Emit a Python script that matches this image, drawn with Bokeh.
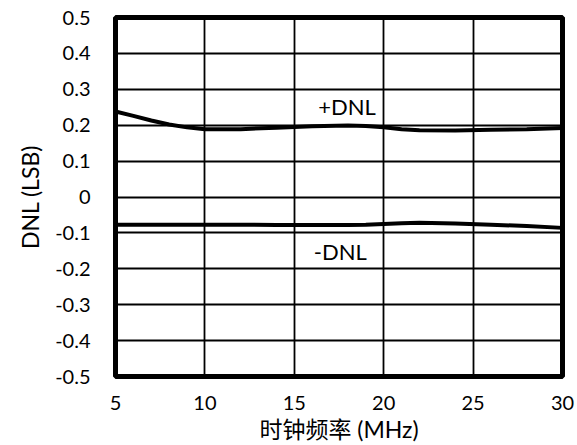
from bokeh.plotting import figure
from bokeh.models import FixedTicker, Range1d
from bokeh.core.properties import value
from bokeh.embed import file_html
from bokeh.resources import INLINE

freq = [5, 6, 7, 8, 9, 10, 12, 14, 16, 18, 19, 20, 21, 22, 24, 26, 28, 30]
dnl_pos = [0.238, 0.226, 0.213, 0.202, 0.194, 0.189, 0.189, 0.193, 0.197, 0.199, 0.198, 0.194, 0.189, 0.186, 0.185, 0.187, 0.189, 0.192]
dnl_neg = [-0.077, -0.077, -0.077, -0.077, -0.077, -0.077, -0.077, -0.078, -0.078, -0.078, -0.077, -0.075, -0.073, -0.072, -0.074, -0.077, -0.081, -0.086]
x_ticks = [5, 10, 15, 20, 25, 30]
y_ticks = [-0.5, -0.4, -0.3, -0.2, -0.1, 0, 0.1, 0.2, 0.3, 0.4, 0.5]
y_tick_labels = ["-0.5", "-0.4", "-0.3", "-0.2", "-0.1", "0", "0.1", "0.2", "0.3", "0.4", "0.5"]
label_text = ["+DNL", "-DNL"]
label_x = [17.95, 17.57]
label_y = [0.252, -0.151]

FONT = "Lato, 'Noto Sans CJK SC'"

p = figure(width=577, height=445, output_backend="svg", toolbar_location=None,
           x_range=Range1d(5, 30), y_range=Range1d(-0.5, 0.5),
           min_border_left=115, min_border_right=15, min_border_top=17, min_border_bottom=68)
p.background_fill_color = "white"
p.border_fill_color = "white"
p.outline_line_color = "black"
p.outline_line_width = 5

for ax in (p.xaxis[0], p.yaxis[0]):
    ax.axis_line_color = None
    ax.major_tick_line_color = None
    ax.minor_tick_line_color = None
    ax.major_label_text_font = FONT
    ax.major_label_text_font_size = "20px"
    ax.major_label_text_color = "black"
    ax.axis_label_text_font = FONT
    ax.axis_label_text_font_size = "23px"
    ax.axis_label_text_font_style = "normal"
    ax.axis_label_text_color = "black"

p.xaxis.ticker = FixedTicker(ticks=x_ticks)
p.yaxis.ticker = FixedTicker(ticks=y_ticks)
p.yaxis.major_label_overrides = {t: l for t, l in zip(y_ticks, y_tick_labels)}
p.xaxis.major_label_standoff = 13
p.yaxis.major_label_standoff = 19
p.xaxis.axis_label = "时钟频率 (MHz)"
p.yaxis.axis_label = "DNL (LSB)"
p.xaxis.axis_label_standoff = 2
p.yaxis.axis_label_standoff = 8

p.xgrid.ticker = FixedTicker(ticks=x_ticks)
p.ygrid.ticker = FixedTicker(ticks=y_ticks)
for g in (p.xgrid[0], p.ygrid[0]):
    g.grid_line_color = "black"
    g.grid_line_width = 1.8
    g.grid_line_alpha = 1.0

p.line(freq, dnl_pos, line_color="black", line_width=4)
p.line(freq, dnl_neg, line_color="black", line_width=4)
p.text(x=label_x, y=label_y, text=label_text, text_font=value("Lato"),
       text_font_size="22px", text_align="center", text_baseline="middle",
       text_color="black")

open("out.html", "w").write(file_html(p, INLINE))
